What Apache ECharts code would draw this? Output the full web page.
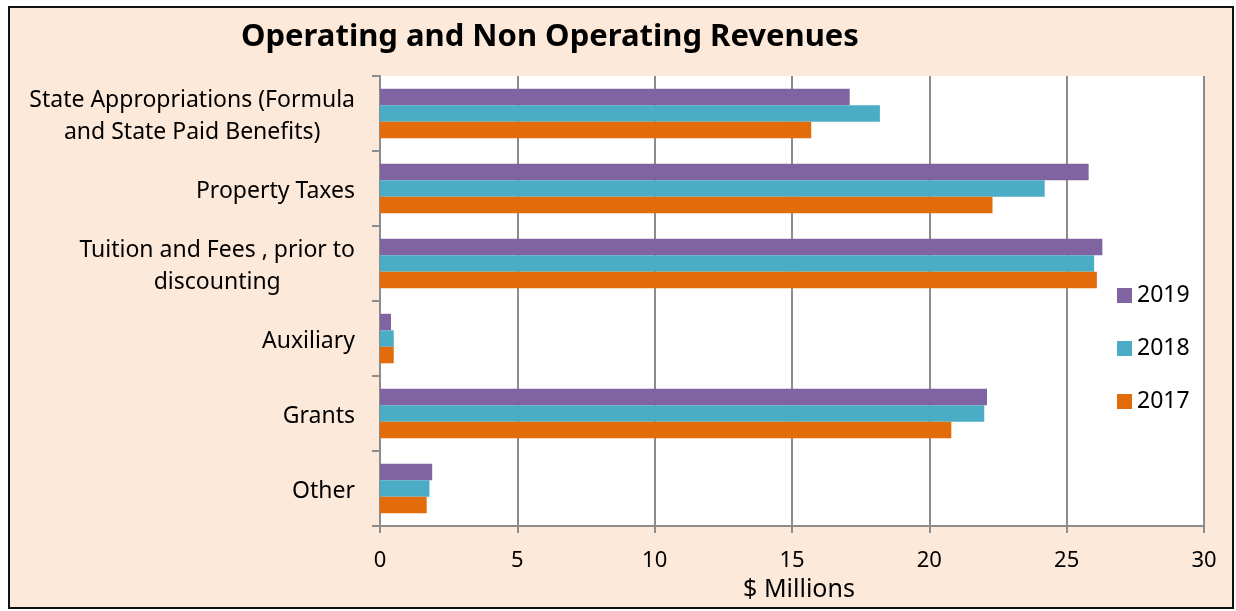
<!DOCTYPE html>
<html>
<head>
<meta charset="utf-8">
<script src="https://cdn.jsdelivr.net/npm/echarts@6/dist/echarts.min.js"></script>
<style>
  html, body { margin: 0; padding: 0; background: #ffffff; }
  #chart {
    position: absolute; left: 8px; top: 6px;
    width: 1226px; height: 603px;
    box-sizing: border-box; border: 2px solid #111;
    background: #fde9d9;
  }
</style>
</head>
<body>
<div id="chart"></div>
<script>
  // categories, top to bottom
  var categories = [
    'State Appropriations (Formula\nand State Paid Benefits)',
    'Property Taxes',
    'Tuition and Fees , prior to\ndiscounting',
    'Auxiliary',
    'Grants',
    'Other'
  ];
  var years = ['2019', '2018', '2017'];
  var values2019 = [17.1, 25.8, 26.3, 0.4, 22.1, 1.9];
  var values2018 = [18.2, 24.2, 26.0, 0.5, 22.0, 1.8];
  var values2017 = [15.7, 22.3, 26.1, 0.5, 20.8, 1.7];
  var xTicks = [0, 5, 10, 15, 20, 25, 30];

  var colors = ['#8064a2', '#4bacc6', '#e36c0a'];
  var font = '"Noto Sans", sans-serif';

  var chart = echarts.init(document.getElementById('chart'));
  var seriesData = [values2019, values2018, values2017];

  var option = {
    animation: false,
    title: {
      text: 'Operating and Non Operating Revenues',
      left: 226,
      top: 9,
      textStyle: { fontFamily: font, fontSize: 31, fontWeight: 'bold', color: '#000' }
    },
    legend: {
      orient: 'vertical',
      left: 1102,
      top: 271,
      itemWidth: 15,
      itemHeight: 15,
      itemGap: 30,
      icon: 'rect',
      data: years,
      textStyle: { fontFamily: font, fontSize: 23, color: '#000' }
    },
    grid: {
      left: 370,
      top: 68,
      width: 824,
      height: 452,
      show: true,
      backgroundColor: '#ffffff',
      borderWidth: 0
    },
    xAxis: {
      type: 'value',
      min: xTicks[0],
      max: xTicks[xTicks.length - 1],
      interval: 5,
      name: '$ Millions',
      nameLocation: 'middle',
      nameGap: 49,
      nameTextStyle: { fontFamily: font, fontSize: 25, color: '#000', padding: [0, 0, 0, 14] },
      axisLine: { show: true, lineStyle: { color: '#8c8c8c', width: 2 } },
      axisTick: { show: true, length: 7, lineStyle: { color: '#8c8c8c', width: 2 } },
      axisLabel: { fontFamily: font, fontSize: 22, color: '#000', margin: 24 },
      splitLine: { show: true, lineStyle: { color: '#8c8c8c', width: 2 } }
    },
    yAxis: {
      type: 'category',
      inverse: true,
      data: categories,
      axisLine: { show: true, lineStyle: { color: '#8c8c8c', width: 2 } },
      axisTick: { show: true, length: 8, lineStyle: { color: '#8c8c8c', width: 2 } },
      axisLabel: {
        margin: 25,
        padding: [6, 0, 0, 0],
        formatter: function (v) { return '{c|' + v.split('\n').join('}\n{c|') + '}'; },
        rich: {
          c: { fontFamily: font, fontSize: 23, color: '#000', align: 'center', lineHeight: 32 }
        }
      }
    },
    series: years.map(function (y, i) {
      return {
        name: y,
        type: 'bar',
        data: seriesData[i],
        barGap: '0%',
        barCategoryGap: '34%',
        itemStyle: { color: colors[i] }
      };
    })
  };
  chart.setOption(option);
</script>
</body>
</html>
